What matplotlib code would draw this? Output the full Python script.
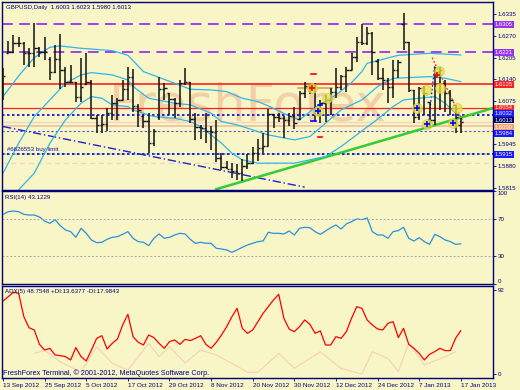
import matplotlib
matplotlib.use('Agg')
import matplotlib.pyplot as plt
import matplotlib.transforms as mtransforms
import numpy as np

plt.rcParams['font.family'] = ['Liberation Sans', 'DejaVu Sans']

BG = '#f8f5c6'
NAVY = '#00007a'

# ---------------- data ----------------
opens = [1.6100, 1.6220, 1.6221, 1.6250, 1.6248, 1.6220, 1.6218, 1.6233, 1.6223, 1.6200,
         1.6163, 1.6200, 1.6168, 1.6133, 1.6132, 1.6088, 1.6125, 1.6133, 1.6023, 1.6003,
         1.6005, 1.6038, 1.6068, 1.6078, 1.6110, 1.6146, 1.6060, 1.6030, 1.6016, 1.5950,
         1.6028, 1.6110, 1.6098, 1.6080, 1.6070, 1.6128, 1.6133, 1.6020, 1.5998, 1.5993,
         1.5985, 1.5983, 1.5905, 1.5878, 1.5872, 1.5865, 1.5858, 1.5880, 1.5890, 1.5918,
         1.5935, 1.5940, 1.6035, 1.6026, 1.6023, 1.6018, 1.6030, 1.6020, 1.6098, 1.6120,
         1.6116, 1.6048, 1.6068, 1.6078, 1.6103, 1.6118, 1.6150, 1.6168, 1.6208, 1.6253,
         1.6248, 1.6280, 1.6195, 1.6143, 1.6138, 1.6118, 1.6168, 1.6305, 1.6253, 1.6108,
         1.6028, 1.6113, 1.6073, 1.6018, 1.6163, 1.6130, 1.6098, 1.6063, 1.6003]
highs = [1.6173, 1.6256, 1.6273, 1.6268, 1.6253, 1.6233, 1.6308, 1.6238, 1.6268, 1.6208,
         1.6243, 1.6275, 1.6178, 1.6183, 1.6133, 1.6203, 1.6218, 1.6138, 1.6033, 1.6033,
         1.6053, 1.6093, 1.6083, 1.6138, 1.6178, 1.6170, 1.6066, 1.6033, 1.6038, 1.5990,
         1.6148, 1.6128, 1.6098, 1.6083, 1.6138, 1.6173, 1.6133, 1.6040, 1.6003, 1.6038,
         1.6000, 1.6018, 1.5918, 1.5895, 1.5890, 1.5885, 1.5900, 1.5915, 1.5938, 1.5960,
         1.5978, 1.6050, 1.6036, 1.6040, 1.6030, 1.6040, 1.6058, 1.6105, 1.6133, 1.6125,
         1.6130, 1.6078, 1.6093, 1.6113, 1.6173, 1.6153, 1.6178, 1.6218, 1.6268, 1.6306,
         1.6298, 1.6283, 1.6200, 1.6173, 1.6143, 1.6198, 1.6198, 1.6338, 1.6253, 1.6108,
         1.6118, 1.6120, 1.6073, 1.6178, 1.6178, 1.6138, 1.6108, 1.6063, 1.6023]
lows = [1.6078, 1.6218, 1.6218, 1.6238, 1.6183, 1.6178, 1.6178, 1.6208, 1.6198, 1.6138,
        1.6158, 1.6110, 1.6118, 1.6128, 1.6073, 1.6073, 1.6123, 1.6020, 1.5978, 1.5980,
        1.5985, 1.6018, 1.6018, 1.6078, 1.6078, 1.6043, 1.5996, 1.5993, 1.5918, 1.5940,
        1.6018, 1.6078, 1.6033, 1.6025, 1.6058, 1.6123, 1.6008, 1.5958, 1.5960, 1.5950,
        1.5928, 1.5893, 1.5868, 1.5870, 1.5845, 1.5838, 1.5835, 1.5870, 1.5886, 1.5895,
        1.5918, 1.5940, 1.5995, 1.6013, 1.5963, 1.6000, 1.5990, 1.6018, 1.6083, 1.6095,
        1.6015, 1.6008, 1.6013, 1.6033, 1.6083, 1.6108, 1.6103, 1.6168, 1.6193, 1.6243,
        1.6243, 1.6153, 1.6138, 1.6108, 1.6068, 1.6083, 1.6143, 1.6228, 1.6103, 1.6008,
        1.6018, 1.6033, 1.5993, 1.6003, 1.6048, 1.6043, 1.6033, 1.5978, 1.5980]
closes = [1.6150, 1.6221, 1.6250, 1.6248, 1.6220, 1.6218, 1.6233, 1.6223, 1.6221, 1.6163,
          1.6200, 1.6168, 1.6133, 1.6132, 1.6088, 1.6118, 1.6133, 1.6023, 1.6003, 1.6005,
          1.6038, 1.6068, 1.6078, 1.6110, 1.6146, 1.6060, 1.6048, 1.6016, 1.5950, 1.5985,
          1.6110, 1.6113, 1.6080, 1.6070, 1.6128, 1.6133, 1.6020, 1.5998, 1.5993, 1.5985,
          1.5983, 1.5905, 1.5878, 1.5872, 1.5865, 1.5858, 1.5880, 1.5890, 1.5918, 1.5935,
          1.5940, 1.6035, 1.6026, 1.6023, 1.6018, 1.6030, 1.6008, 1.6098, 1.6120, 1.6116,
          1.6048, 1.6068, 1.6078, 1.6103, 1.6118, 1.6150, 1.6168, 1.6208, 1.6253, 1.6248,
          1.6280, 1.6223, 1.6143, 1.6138, 1.6118, 1.6168, 1.6193, 1.6253, 1.6108, 1.6028,
          1.6113, 1.6100, 1.6018, 1.6163, 1.6168, 1.6098, 1.6078, 1.6028, 1.6013]

bb_up_x = [0, 3, 6, 9, 11, 15, 21, 24, 27, 33, 36, 40, 43, 46, 49, 51, 55, 57, 60, 64, 67, 69, 70, 73, 76, 82, 88]
bb_up_y = [1.6088, 1.6150, 1.6205, 1.6236, 1.6240, 1.6233, 1.6226, 1.6212, 1.6163, 1.6128, 1.6110, 1.6108,
           1.6103, 1.6083, 1.6073, 1.6060, 1.6030, 1.6018, 1.6055, 1.6093, 1.6130, 1.6163, 1.6188, 1.6200,
           1.6212, 1.6218, 1.6213]
bb_mid_x = [0, 3, 6, 9, 12, 15, 17, 21, 24, 25, 28, 33, 36, 40, 42, 45, 48, 49, 51, 56, 59, 62, 65, 69, 72, 75, 82, 85, 88]
bb_mid_y = [1.5858, 1.5948, 1.6028, 1.6078, 1.6128, 1.6153, 1.6160, 1.6153, 1.6138, 1.6118, 1.6083, 1.6068,
            1.6063, 1.6038, 1.6013, 1.6003, 1.5988, 1.5983, 1.5973, 1.5958, 1.5968, 1.6008, 1.6048, 1.6078,
            1.6118, 1.6143, 1.6148, 1.6143, 1.6133]
bb_lo_x = [1, 3, 6, 9, 12, 15, 17, 19, 21, 24, 25, 29, 33, 36, 38, 40, 42, 44, 46, 49, 56, 62, 65, 69, 72, 75, 77, 80, 83, 85, 87]
bb_lo_y = [1.5760, 1.5808, 1.5858, 1.5948, 1.6018, 1.6068, 1.6088, 1.6083, 1.6063, 1.6058, 1.6048, 1.6028,
           1.6023, 1.6013, 1.5998, 1.5973, 1.5948, 1.5918, 1.5898, 1.5888, 1.5888, 1.5908, 1.5938, 1.5985,
           1.6020, 1.6058, 1.6078, 1.6083, 1.6088, 1.6068, 1.6038]

rsi = [75.0, 77.9, 78.6, 77.9, 75.0, 74.3, 74.3, 72.2, 67.8, 65.3,
       69.3, 62.8, 58.1, 56.3, 50.2, 59.9, 54.5, 47.3, 44.4, 44.8,
       48.0, 50.2, 50.9, 53.4, 56.3, 49.1, 45.5, 44.8, 41.2, 49.1,
       53.8, 49.1, 50.2, 52.7, 54.5, 53.8, 48.0, 43.7, 44.8, 43.7,
       43.7, 38.3, 37.6, 36.5, 34.0, 36.5, 39.4, 41.9, 43.7, 45.5,
       46.2, 55.6, 54.5, 54.5, 53.8, 57.0, 52.7, 59.9, 61.0, 60.6,
       56.3, 53.4, 57.0, 60.6, 63.5, 59.2, 64.6, 67.1, 70.0, 69.3,
       71.1, 56.3, 52.7, 52.7, 49.1, 56.3, 57.4, 61.0, 49.1, 46.2,
       49.8, 45.5, 42.6, 53.4, 50.9, 47.3, 45.5, 42.6, 43.1]

adx = [80.3, 85.0, 89.8, 88.7, 63.0, 50.9, 48.4, 32.6, 26.4, 28.2,
       20.9, 20.2, 19.1, 15.4, 29.0, 19.1, 14.3, 26.4, 39.2, 42.1,
       27.5, 33.7, 38.5, 53.9, 65.6, 41.0, 34.8, 31.9, 42.9, 40.0,
       33.7, 28.2, 35.6, 37.4, 32.6, 38.1, 36.7, 39.2, 42.1, 32.6,
       28.2, 34.8, 42.9, 52.0, 63.0, 72.2, 50.2, 44.7, 48.4, 57.5,
       66.7, 74.0, 81.4, 87.6, 61.2, 49.5, 46.5, 52.0, 59.4, 54.6,
       44.7, 47.3, 31.9, 31.9, 41.0, 39.2, 46.5, 61.2, 74.0, 72.2,
       59.4, 53.9, 49.5, 48.4, 55.7, 57.5, 40.0, 50.2, 32.6, 28.2,
       22.7, 15.4, 21.6, 24.6, 28.2, 25.7, 25.7, 39.2, 47.6]

di_x = [6, 8, 11, 15, 18, 21, 24, 28, 30, 32, 35, 38, 41, 44, 47, 49, 53, 56, 61, 65, 69, 71, 74, 76, 78, 81, 85, 87]
di_y = [22.7, 26.0, 13.5, 1.8, 30.0, 11.7, 4.4, 33.7, 19.0, 30.0, 12.0, 26.4, 20.9, 11.7, 2.0, 1.8, 22.7,
        6.2, 24.5, 6.0, 0.0, 24.5, 17.2, 2.6, 33.7, 9.9, 19.0, 24.5]

date_pos = [0, 8, 16, 24, 32, 40, 48, 56, 64, 72, 80, 88]
date_labels = ['13 Sep 2012', '25 Sep 2012', '5 Oct 2012', '17 Oct 2012', '29 Oct 2012', '8 Nov 2012',
               '20 Nov 2012', '30 Nov 2012', '12 Dec 2012', '24 Dec 2012', '7 Jan 2013', '17 Jan 2013']

# 1.6010 tick is hidden behind the price boxes in the reference
price_ticks = [1.6335, 1.6270, 1.6205, 1.6140, 1.6075, 1.5945, 1.5880, 1.5815]
level_vals = [1.6305, 1.6221, 1.6125, 1.6054, 1.6032, 1.6013, 1.6000, 1.5984, 1.5915]
level_cols = ['#9933ee', '#9933ee', '#ff2020', '#ff2020', '#1a1aff', '#000066', '#f2a070', '#1a1aff', '#1a1aff']

circ_x = [59.4, 62.2, 60.6, 79.6, 81.3, 81.5, 83.9, 84.0, 87.2, 86.6]
circ_y = [1.6115, 1.6083, 1.6045, 1.6053, 1.6108, 1.6005, 1.6165, 1.6113, 1.6053, 1.6010]
red_cross_x = [59.4, 83.5]
red_cross_y = [1.6115, 1.6153]
blue_cross_x = [60.6, 79.6, 81.5, 86.6]
blue_cross_y = [1.6045, 1.6053, 1.6005, 1.6010]

# ---------------- figure ----------------
W, H = 520, 390
fig = plt.figure(figsize=(5.2, 3.9), dpi=100, facecolor=BG)


def rect(x0, y0, x1, y1):
    return [x0 / W, 1 - y1 / H, (x1 - x0) / W, (y1 - y0) / H]


ax = fig.add_axes(rect(2, 2, 493, 189.5))
ax_r = fig.add_axes(rect(2, 190.5, 493, 284))
ax_a = fig.add_axes(rect(2, 285.5, 493, 377.7))

XL = (-0.2, 94.2)
for a in (ax, ax_r, ax_a):
    a.set_facecolor(BG)
    a.set_xlim(*XL)
    for s in a.spines.values():
        s.set_color(NAVY)
        s.set_linewidth(1.0)
    a.yaxis.tick_right()
    a.tick_params(axis='y', direction='out', length=2, width=0.6, colors=NAVY,
                  labelsize=4.4, pad=1.5)
    a.tick_params(axis='x', bottom=False, labelbottom=False)

# ---- main price panel ----
ax.set_ylim(1.5809, 1.6372)
ax.set_yticks(price_ticks)
ax.set_yticklabels(['%.4f' % v for v in price_ticks])

x = np.arange(len(closes))
ax.text(47, 1.6058, 'FreshForex', fontsize=37, color='#f0c49a', alpha=0.75,
        ha='center', va='center', zorder=0.5, family='DejaVu Sans')

# horizontal levels
ax.axhline(1.6305, color='#9933ee', lw=1.3, ls=(0, (6, 3.5)), zorder=1)
ax.axhline(1.6221, color='#9933ee', lw=1.3, ls=(0, (6, 3.5)), zorder=1)
ax.axhline(1.6125, color='#ff1010', lw=1.1, zorder=1)
ax.axhline(1.6054, color='#ff2020', lw=0.9, zorder=1)
ax.axhline(1.6032, color='#0000ee', lw=1.2, ls=(0, (1.5, 1.5)), zorder=1)
ax.axhline(1.6013, color='#f0d8c0', lw=1.0, zorder=1)
ax.axhline(1.6000, color='#f0c4a0', lw=1.3, zorder=1)
ax.axhline(1.5984, color='#5050dd', lw=0.8, ls=(0, (2, 2)), zorder=1)
ax.axhline(1.5915, color='#b8dca0', lw=1.2, ls=(0, (4, 3)), zorder=1)
ax.axhline(1.5915, color='#0000ee', lw=1.2, ls=(0, (1.5, 1.5)), zorder=1)
ax.axhline(1.5888, color='#f0d6b8', lw=0.9, ls=(0, (4, 3)), zorder=1)

# trend lines
ax.plot([0, 58], [1.5998, 1.5816], color='#2020cc', lw=1.0, ls=(0, (6, 2, 1, 2)), zorder=2)
ax.plot([41, 95], [1.5810, 1.6057], color='#33cc33', lw=1.8, zorder=2)
ax.plot([56.7, 63.2], [1.6115, 1.6115], color='#e0a040', lw=1.2, zorder=2)
ax.plot([82.5, 88.5], [1.6205, 1.6010], color='#ff2020', lw=0.9, ls=(0, (1.5, 1.5)), zorder=2)
ax.plot([81.7, 83.0], [1.5994, 1.6183], color='#2020ee', lw=0.9, ls=(0, (1.5, 1.5)), zorder=2)

# bollinger bands
for bx, by in ((bb_up_x, bb_up_y), (bb_mid_x, bb_mid_y), (bb_lo_x, bb_lo_y)):
    ax.plot(bx, by, color='#33b5e8', lw=0.9, zorder=2)

# OHLC bars
ax.vlines(x, lows, highs, colors='#111111', lw=1.1, zorder=3)
ax.hlines(opens, x - 0.45, x, colors='#111111', lw=1.0, zorder=3)
ax.hlines(closes, x, x + 0.45, colors='#111111', lw=1.0, zorder=3)

# markers
ax.scatter(circ_x, circ_y, s=50, c='#e8e24a', alpha=0.75, edgecolors='#d0c830',
           linewidths=0.6, zorder=4)
ax.scatter(red_cross_x, red_cross_y, s=14, marker='+', c='#ff0000', linewidths=1.2, zorder=5)
ax.scatter(blue_cross_x, blue_cross_y, s=14, marker='+', c='#0000ff', linewidths=1.2, zorder=5)
ax.plot([59.3, 60.1], [1.6156, 1.6156], color='#ff0000', lw=1.2, zorder=5)
ax.plot([60.6, 61.4], [1.5968, 1.5968], color='#ff0000', lw=1.2, zorder=5)
ax.plot([59.3, 60.1], [1.6015, 1.6015], color='#0000ff', lw=1.2, zorder=5)
ax.plot([60.6, 61.4], [1.6063, 1.6063], color='#0000ff', lw=1.2, zorder=5)

# price boxes on the right axis (small vertical nudges in pixels keep packed boxes readable)
nudge_px = [0, 0, 0, 0, 2.0, 1.5, -1.5, -2.5, 0]
tr = mtransforms.blended_transform_factory(ax.transAxes, ax.transData)
for v, c, dy in zip(level_vals, level_cols, nudge_px):
    t = mtransforms.offset_copy(tr, fig=fig, x=0, y=dy, units='dots')
    ax.text(1.004, v, '%.4f' % v, transform=t, fontsize=4.2, color='white',
            ha='left', va='center', clip_on=False, zorder=10,
            bbox=dict(boxstyle='square,pad=0.15', fc=c, ec='none'))

# ---- RSI panel ----
ax_r.set_ylim(-0.3, 100.8)
ax_r.plot(x, rsi, color='#2a90e0', lw=0.9)
ax_r.axhline(70, color='#a8a8a8', lw=0.7, ls=(0, (2, 2)))
ax_r.axhline(30, color='#a8a8a8', lw=0.7, ls=(0, (2, 2)))
ax_r.set_yticks([100, 70, 30, 0])
ax_r.set_yticklabels(['100', '70', '30', '0'])
lab = ax_r.get_yticklabels()
lab[0].set_va('top')
lab[-1].set_va('bottom')

# ---- ADX panel ----
ax_a.set_ylim(-4.1, 97.3)
ax_a.plot(di_x, di_y, color='#f6d0b8', lw=0.8)
ax_a.plot(x, adx, color='#ff0000', lw=0.9)
ax_a.set_yticks([92, 0])
ax_a.set_yticklabels(['92', '0'])
ax_a.tick_params(axis='x', bottom=True, labelbottom=True, direction='out', length=2,
                 width=0.6, colors=NAVY, labelsize=4.6, pad=1.5)
ax_a.set_xticks(date_pos)
ax_a.set_xticklabels(date_labels, ha='left')

# ---- texts ----
fig.text(6 / W, 1 - 7 / H, 'GBPUSD,Daily  1.6003 1.6023 1.5980 1.6013', fontsize=4.4,
         color=NAVY, va='center', ha='left')
fig.text(7 / W, 1 - 150 / H, '#6626553 buy limit', fontsize=4.4, color='#1010a0',
         va='center', ha='left')
fig.text(5 / W, 1 - 197 / H, 'RSI(14) 43.1229', fontsize=4.4, color=NAVY, va='center', ha='left')
fig.text(5 / W, 1 - 292 / H, 'ADX(5) 48.7548 +DI:13.6377 -DI:17.9843', fontsize=4.4,
         color=NAVY, va='center', ha='left')
fig.text(3 / W, 1 - 373 / H, 'FreshForex Terminal, \u00a9 2001-2012, MetaQuotes Software Corp.',
         fontsize=5.2, color=NAVY, va='center', ha='left')

fig.savefig('out.png', dpi=100, facecolor=BG)
